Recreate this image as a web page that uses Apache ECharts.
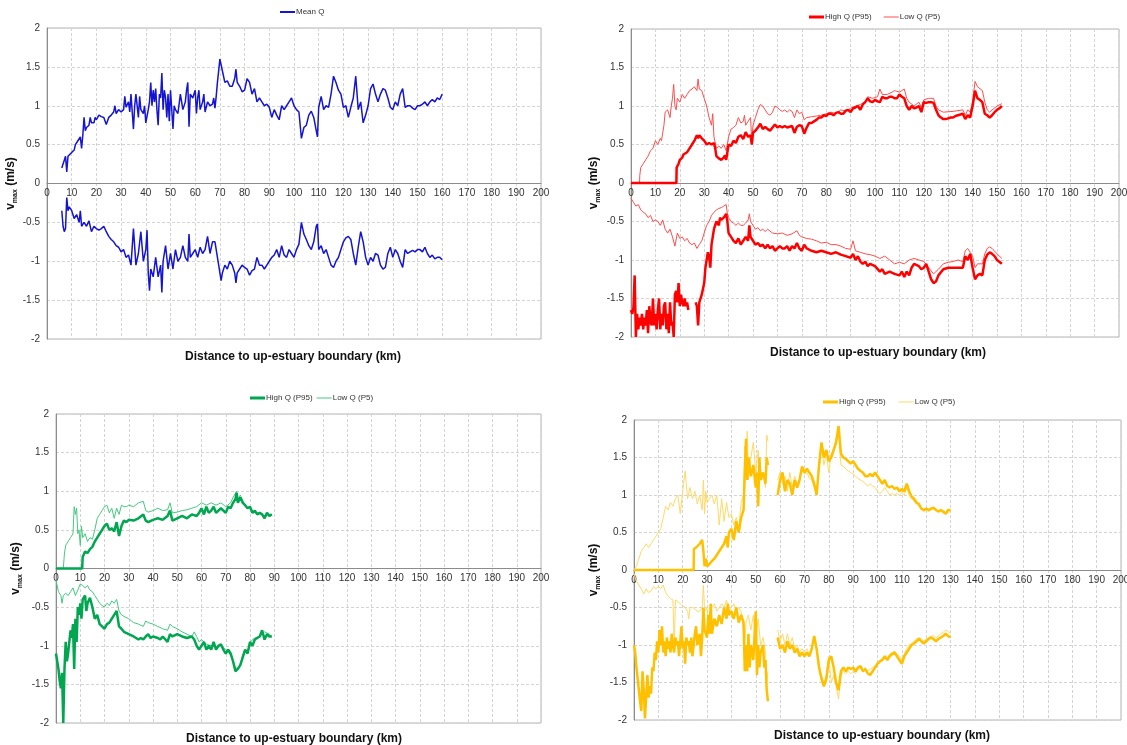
<!DOCTYPE html>
<html>
<head>
<meta charset="utf-8">
<script src="https://cdn.jsdelivr.net/npm/echarts@6/dist/echarts.min.js"></script>
<style>
html,body{margin:0;padding:0;background:#fff;}
#chart{width:1127px;height:745px;}
</style>
</head>
<body>
<div id="chart"></div>
<script>
// ---------------- DATA (distance km, v_max m/s) ----------------
const meanUp = [[6,0.2],[6.5,0.25],[7,0.3],[7.5,0.35],[8,0.15],[8.5,0.35],[9,0.37],[10,0.4],[11,0.43],[11.5,0.5],[12,0.48],[12.5,0.55],[13,0.55],[13.5,0.6],[14,0.45],[14.5,0.62],[15,0.85],[15.5,0.68],[16,0.72],[16.5,0.7],[17,0.75],[17.5,0.85],[18,0.78],[19,0.78],[19.5,0.85],[20,0.82],[21,0.88],[22,0.86],[23,0.85],[24,0.76],[25,0.85],[26,0.88],[27,0.92],[27.5,1.0],[28,0.9],[29,0.95],[30,0.92],[31,0.95],[31.5,1.12],[32,0.98],[33,1.05],[33.5,0.92],[34,1.15],[35,0.7],[35.5,1.0],[36,1.15],[37,0.85],[37.5,1.12],[38,0.95],[39,0.9],[39.5,1.0],[40,0.78],[41,0.95],[41.5,1.05],[42,1.3],[42.5,1.0],[43,1.2],[43.5,1.05],[44,1.22],[44.5,0.95],[45,0.75],[45.5,1.15],[46,1.1],[46.5,1.42],[47,0.95],[47.5,1.2],[48,1.1],[48.5,0.85],[49,1.15],[49.5,0.8],[50,1.2],[51,0.7],[51.5,1.0],[52,0.95],[53,0.9],[54,1.15],[55,0.95],[56,1.05],[56.5,1.2],[57,1.3],[57.5,0.73],[58,1.15],[59,1.1],[60,1.2],[60.5,0.9],[61,1.1],[61.5,1.2],[62,0.95],[63,1.05],[63.5,1.15],[64,0.92],[65,1.05],[66,1.0],[67,1.02],[67.5,1.1],[68,0.97],[68.5,1.12],[69,1.3],[70,1.6],[71,1.45],[72,1.3],[73,1.32],[74,1.25],[75,1.25],[76,1.35],[76.5,1.47],[77,1.3],[78,1.25],[79,1.18],[80,1.2],[81,1.35],[82,1.3],[83,1.15],[84,1.22],[85,1.05],[86,1.1],[87,1.05],[88,1.0],[89,1.02],[90,0.98],[91,0.85],[92,0.95],[93,0.88],[94,0.82],[95,1.0],[96,0.95],[97,1.0],[98,1.05],[99,1.1],[100,1.0],[101,0.95],[102,0.92],[103,0.58],[104,0.72],[105,0.75],[106,0.88],[107,0.93],[108,0.85],[109,0.68],[109.5,0.6],[110,0.98],[111,1.12],[112,0.95],[113,1.0],[114,0.98],[115,1.15],[116,1.38],[117,1.3],[118,1.2],[119,1.15],[120,0.98],[121,1.0],[122,0.85],[123,0.98],[124,1.1],[125,1.38],[126,0.95],[127,1.05],[128,0.78],[129,0.88],[130,1.0],[131,1.22],[132,1.28],[133,1.15],[134,1.05],[135,1.15],[136,1.22],[137,1.2],[138,1.1],[139,0.98],[140,0.95],[141,1.05],[142,1.0],[143,1.15],[144,1.22],[145,0.98],[146,1.0],[147,1.0],[148,0.97],[149,0.95],[150,1.0],[151,1.0],[152,1.02],[153,1.05],[154,1.0],[155,1.05],[156,1.08],[157,1.05],[158,1.1],[159,1.08],[160,1.15]];
const meanLow = [[6,-0.35],[6.5,-0.55],[7,-0.62],[7.5,-0.58],[8,-0.18],[8.5,-0.35],[9,-0.3],[10,-0.35],[11,-0.45],[12,-0.4],[13,-0.5],[13.5,-0.35],[14,-0.55],[15,-0.5],[16,-0.55],[17,-0.48],[18,-0.62],[19,-0.55],[20,-0.58],[21,-0.6],[22,-0.58],[23,-0.55],[24,-0.62],[25,-0.68],[26,-0.72],[27,-0.75],[28,-0.8],[29,-0.82],[30,-0.88],[31,-0.85],[32,-0.95],[33,-0.92],[34,-1.05],[35,-0.58],[36,-1.05],[37,-0.9],[38,-0.62],[39,-1.0],[40,-0.85],[40.5,-0.6],[41,-1.15],[41.5,-1.38],[42,-1.1],[43,-1.2],[44,-0.95],[45,-1.2],[46,-1.05],[46.5,-1.4],[47,-1.0],[48,-0.8],[49,-1.1],[50,-0.9],[51,-1.1],[52,-0.85],[53,-1.0],[54,-0.95],[55,-0.8],[56,-0.95],[57,-1.0],[57.5,-0.65],[58,-0.95],[59,-0.9],[60,-0.85],[61,-0.95],[62,-0.82],[63,-0.9],[64,-0.85],[65,-0.68],[66,-0.9],[67,-0.75],[68,-0.75],[69,-0.95],[70,-1.15],[70.5,-1.25],[71,-1.15],[72,-1.05],[73,-1.1],[74,-1.0],[75,-1.05],[76,-1.15],[76.5,-1.28],[77,-1.15],[78,-1.1],[79,-1.05],[80,-1.08],[81,-1.1],[82,-1.18],[83,-1.12],[84,-1.1],[85,-0.95],[86,-1.05],[87,-1.05],[88,-1.1],[89,-1.05],[90,-1.0],[91,-0.95],[92,-0.92],[93,-0.85],[94,-0.95],[95,-0.8],[96,-0.92],[97,-0.95],[98,-0.85],[99,-0.9],[100,-0.95],[101,-0.85],[102,-0.78],[103,-0.5],[104,-0.65],[105,-0.72],[106,-0.8],[107,-0.85],[108,-0.75],[109,-0.55],[109.5,-0.52],[110,-0.85],[111,-0.8],[112,-0.9],[113,-0.85],[114,-0.95],[115,-1.05],[116,-1.08],[117,-1.0],[118,-0.95],[119,-0.85],[120,-0.75],[121,-0.7],[122,-0.68],[123,-0.72],[124,-0.9],[125,-1.05],[126,-0.82],[127,-0.62],[128,-0.75],[129,-0.95],[130,-1.05],[131,-0.95],[132,-1.0],[133,-0.9],[134,-0.92],[135,-1.05],[136,-1.1],[137,-1.08],[138,-0.9],[139,-0.82],[140,-0.95],[141,-0.85],[142,-0.9],[143,-1.0],[144,-1.08],[145,-0.85],[146,-0.9],[147,-0.88],[148,-0.86],[149,-0.88],[150,-0.85],[151,-0.85],[152,-0.88],[153,-0.82],[154,-0.9],[155,-0.95],[156,-0.92],[157,-0.97],[158,-0.95],[159,-0.95],[160,-0.98]];

const redHighUp = [[0,0],[18.6,0],[18.7,0.2],[19.5,0.25],[20,0.3],[21,0.33],[21.5,0.37],[22,0.36],[23,0.4],[24,0.45],[25,0.5],[26,0.55],[27,0.62],[27.5,0.58],[28,0.62],[29,0.58],[30,0.55],[31,0.5],[32,0.52],[33,0.5],[34,0.52],[34.5,0.45],[35,0.35],[36,0.32],[37,0.3],[38,0.33],[38.5,0.36],[39,0.3],[39.5,0.28],[40,0.5],[41,0.48],[42,0.55],[43,0.52],[44,0.6],[45,0.62],[46,0.57],[47,0.66],[48,0.6],[49,0.62],[49.5,0.5],[50,0.65],[51,0.68],[52,0.72],[53,0.77],[54,0.7],[55,0.73],[56,0.7],[57,0.68],[58,0.72],[59,0.76],[60,0.72],[61,0.74],[62,0.72],[63,0.74],[64,0.72],[65,0.73],[66,0.74],[67,0.65],[68,0.73],[69,0.75],[70,0.74],[71,0.64],[72,0.72],[73,0.78],[74,0.78],[75,0.8],[76,0.82],[77,0.85],[78,0.85],[79,0.88],[80,0.87],[81,0.9],[82,0.9],[83,0.88],[84,0.91],[85,0.92],[86,0.9],[87,0.9],[88,0.94],[89,0.95],[90,0.92],[91,0.97],[92,0.98],[93,1.0],[94,0.95],[95,1.02],[96,1.05],[97,1.1],[98,1.06],[99,1.05],[100,1.08],[101,1.06],[102,1.05],[103,1.12],[104,1.1],[105,1.1],[106,1.12],[107,1.12],[108,1.1],[109,1.1],[110,1.15],[111,1.12],[112,1.1],[113,1.0],[114,0.95],[115,1.0],[116,0.97],[117,0.98],[118,1.0],[119,0.92],[120,1.05],[121,1.04],[122,1.05],[123,1.05],[124,1.04],[125,0.95],[126,0.88],[127,0.85],[128,0.83],[129,0.83],[130,0.84],[131,0.85],[132,0.85],[133,0.87],[134,0.88],[135,0.89],[136,0.9],[137,0.83],[138,0.88],[139,0.85],[140,1.0],[141,1.2],[142,1.1],[143,1.08],[144,1.05],[145,0.9],[146,0.88],[147,0.85],[148,0.88],[149,0.92],[150,0.95],[151,0.97],[152,1.0]];
const redLowUp = [[0,0],[3.5,0],[3.6,0.1],[4,0.2],[5,0.25],[6,0.3],[7,0.35],[8,0.42],[9,0.45],[10,0.55],[11,0.5],[12,0.58],[12.5,0.55],[13,0.65],[13.5,0.75],[14,0.92],[15,0.95],[16,0.85],[16.5,1.0],[17,1.1],[17.5,1.28],[18,1.0],[18.5,0.95],[19,1.1],[20,1.05],[21,1.15],[22,1.1],[23,1.15],[24,1.2],[25,1.22],[26,1.25],[27,1.2],[27.5,1.35],[28,1.22],[29,1.2],[30,1.1],[31,1.0],[32,0.85],[33,0.75],[33.5,0.9],[34,0.6],[35,0.45],[36,0.48],[37,0.45],[38,0.5],[39,0.42],[40,0.6],[41,0.7],[42,0.72],[43,0.75],[44,0.85],[45,0.78],[46,0.8],[46.5,0.88],[47,0.75],[48,0.8],[49,0.85],[49.5,0.55],[50,0.75],[51,0.85],[52,0.95],[53,1.02],[54,1.0],[55,0.95],[56,0.9],[57,0.88],[58,0.92],[59,1.0],[60,0.98],[61,0.95],[62,0.93],[63,0.95],[64,0.92],[65,0.95],[66,0.93],[67,0.85],[68,0.95],[69,0.9],[70,0.92],[71,0.82],[72,0.85],[74,0.86],[76,0.87],[78,0.88],[80,0.9],[82,0.92],[84,0.9],[86,0.95],[88,0.93],[90,0.97],[92,1.0],[94,1.02],[96,1.05],[97,1.12],[99,1.1],[101,1.12],[102,1.22],[103,1.15],[105,1.15],[107,1.18],[108,1.2],[110,1.18],[111,1.2],[112,1.22],[113,1.1],[114,1.05],[116,1.0],[118,1.05],[119,0.98],[120,1.08],[122,1.1],[124,1.1],[125,1.0],[126,0.95],[128,0.92],[132,0.93],[136,0.95],[137,0.88],[138,0.95],[139,0.92],[140,1.05],[141,1.32],[142,1.25],[144,1.2],[145,1.05],[146,0.95],[147,0.92],[148,0.95],[150,1.0],[152,1.03]];
const redHighLow = [[0,-1.65],[0.5,-1.7],[1,-1.62],[1.5,-1.2],[2,-2.0],[2.5,-1.7],[3,-1.9],[3.5,-1.75],[4,-1.85],[4.5,-1.7],[5,-1.9],[5.5,-1.75],[6,-1.85],[6.5,-1.65],[7,-1.95],[7.5,-1.6],[8,-1.8],[8.5,-1.85],[9,-1.5],[9.5,-1.85],[10,-1.7],[10.5,-1.9],[11,-1.65],[11.5,-1.5],[12,-1.9],[12.5,-1.7],[13,-1.85],[13.5,-1.6],[14,-1.55],[14.5,-1.9],[15,-1.7],[15.5,-1.95],[16,-1.55],[16.5,-1.85],[17,-1.8],[17.5,-2.0],[18,-1.45],[18.5,-1.4],[19,-1.55],[19.5,-1.3],[20,-1.6],[20.5,-1.45],[21,-1.55],[21.5,-1.6],[22,-1.5],[22.5,-1.6],[23,-1.55],[23.5,-1.65],[25,null],[26.5,-1.55],[27,-1.6],[27.5,-1.85],[28,-1.55],[29,-1.45],[30,-1.3],[30.5,-1.1],[31,-1.0],[31.5,-0.9],[32,-0.95],[32.5,-1.1],[33,-0.8],[34,-0.6],[35,-0.5],[36,-0.55],[36.5,-0.45],[37,-0.48],[38,-0.45],[39,-0.4],[39.5,-0.5],[40,-0.65],[41,-0.7],[42,-0.75],[43,-0.78],[44,-0.72],[45,-0.8],[46,-0.75],[47,-0.7],[48,-0.75],[48.5,-0.55],[49,-0.7],[50,-0.75],[51,-0.8],[52,-0.78],[53,-0.82],[54,-0.8],[55,-0.85],[56,-0.8],[57,-0.85],[58,-0.82],[59,-0.88],[60,-0.85],[61,-0.82],[62,-0.85],[63,-0.85],[64,-0.82],[65,-0.88],[66,-0.82],[67,-0.85],[68,-0.78],[69,-0.85],[70,-0.88],[71,-0.8],[72,-0.85],[74,-0.88],[76,-0.9],[78,-0.88],[80,-0.9],[82,-0.92],[84,-0.9],[86,-0.93],[88,-0.95],[90,-0.97],[91,-0.92],[92,-1.0],[93,-0.95],[94,-1.02],[95,-1.05],[96,-1.02],[97,-1.08],[98,-1.05],[100,-1.08],[102,-1.15],[103,-1.12],[104,-1.18],[106,-1.15],[108,-1.18],[110,-1.2],[111,-1.15],[112,-1.22],[113,-1.15],[114,-1.2],[115,-1.1],[116,-1.05],[118,-1.08],[119,-1.12],[120,-1.1],[121,-1.05],[122,-1.15],[123,-1.25],[124,-1.3],[125,-1.28],[126,-1.2],[128,-1.12],[130,-1.1],[132,-1.1],[134,-1.1],[136,-1.1],[137,-0.95],[138,-1.0],[139,-0.92],[140,-1.1],[141,-1.25],[142,-1.2],[143,-1.18],[144,-1.2],[145,-1.0],[146,-0.93],[147,-0.9],[148,-0.92],[149,-0.95],[150,-1.0],[152,-1.05]];
const redLowLow = [[0,-0.2],[1,-0.25],[2,-0.3],[3,-0.28],[4,-0.35],[5,-0.38],[6,-0.4],[7,-0.45],[8,-0.42],[9,-0.5],[10,-0.48],[11,-0.5],[12,-0.55],[13,-0.48],[14,-0.6],[15,-0.65],[16,-0.6],[17,-0.7],[18,-0.82],[19,-0.65],[20,-0.72],[21,-0.7],[22,-0.75],[23,-0.72],[24,-0.78],[25,-0.8],[26,-0.78],[27,-0.85],[28,-0.8],[29,-0.75],[30,-0.65],[31,-0.55],[32,-0.5],[33,-0.42],[34,-0.38],[35,-0.35],[36,-0.33],[37,-0.32],[38,-0.3],[39,-0.28],[39.5,-0.4],[40,-0.45],[41,-0.5],[42,-0.52],[43,-0.55],[44,-0.52],[45,-0.55],[46,-0.55],[47,-0.52],[48,-0.48],[48.5,-0.4],[49,-0.5],[50,-0.55],[51,-0.6],[52,-0.58],[53,-0.62],[54,-0.6],[55,-0.63],[56,-0.6],[58,-0.65],[60,-0.66],[62,-0.65],[64,-0.68],[66,-0.66],[68,-0.62],[69,-0.68],[70,-0.7],[72,-0.72],[74,-0.73],[76,-0.75],[78,-0.78],[80,-0.77],[82,-0.8],[84,-0.8],[86,-0.82],[88,-0.85],[90,-0.86],[91,-0.75],[92,-0.88],[94,-0.9],[96,-0.92],[98,-0.93],[100,-0.95],[102,-0.98],[104,-0.95],[106,-1.0],[108,-1.05],[110,-1.03],[112,-1.05],[114,-1.0],[116,-0.98],[118,-1.0],[120,-1.02],[122,-1.1],[124,-1.18],[126,-1.12],[128,-1.05],[130,-1.03],[132,-1.02],[134,-1.0],[136,-1.02],[137,-0.88],[138,-0.85],[139,-0.9],[140,-0.95],[141,-1.1],[142,-1.05],[144,-1.05],[145,-0.92],[146,-0.85],[147,-0.83],[148,-0.85],[150,-0.92],[152,-0.98]];

const greenHighUp = [[0,0],[10.8,0],[11,0.15],[12,0.22],[13,0.2],[14,0.25],[15,0.28],[16,0.35],[17,0.4],[18,0.45],[19,0.5],[20,0.55],[21,0.58],[22,0.5],[23,0.52],[24,0.48],[25,0.6],[26,0.42],[27,0.55],[28,0.62],[29,0.6],[30,0.63],[32,0.62],[34,0.65],[36,0.7],[37,0.62],[38,0.6],[40,0.63],[42,0.65],[44,0.63],[46,0.68],[47,0.75],[48,0.62],[50,0.65],[52,0.68],[54,0.65],[56,0.7],[58,0.68],[59,0.72],[60,0.78],[61,0.7],[62,0.8],[63,0.72],[64,0.75],[65,0.8],[66,0.72],[68,0.78],[70,0.72],[71,0.8],[72,0.78],[73,0.85],[74,0.9],[74.5,0.98],[75,0.85],[76,0.92],[77,0.85],[78,0.82],[79,0.78],[80,0.8],[81,0.72],[82,0.75],[83,0.7],[84,0.72],[85,0.7],[86,0.65],[87,0.72],[88,0.68],[89,0.7]];
const greenLowUp = [[0,0],[3,0],[3.5,0.2],[4,0.3],[5,0.35],[6,0.4],[7,0.45],[7.5,0.8],[8,0.7],[8.5,0.78],[9,0.45],[9.5,0.5],[10,0.3],[10.5,0.55],[11,0.4],[12,0.45],[13,0.35],[14,0.4],[15,0.38],[16,0.5],[17,0.65],[18,0.7],[19,0.75],[20,0.8],[21,0.82],[22,0.72],[23,0.78],[24,0.65],[25,0.78],[26,0.7],[27,0.82],[28,0.8],[29,0.8],[30,0.82],[32,0.8],[34,0.85],[36,0.87],[37,0.75],[38,0.73],[40,0.75],[42,0.78],[44,0.75],[46,0.76],[47,0.85],[48,0.72],[50,0.73],[52,0.75],[54,0.76],[56,0.78],[58,0.8],[60,0.85],[62,0.82],[64,0.85],[66,0.82],[68,0.85],[70,0.8],[72,0.85],[73,0.92],[74.5,1.0],[75,0.9],[76,0.95],[77,0.88],[78,0.82],[79,0.78],[80,0.8],[81,0.75],[82,0.72],[84,0.72],[86,0.68],[87,0.72],[88,0.7],[89,0.7]];
const greenHighLow = [[0,-1.1],[0.5,-1.12],[1,-1.3],[1.5,-1.45],[2,-1.55],[2.5,-1.35],[3,-2.0],[3.5,-1.3],[4,-0.95],[4.5,-1.2],[5,-1.1],[5.5,-0.95],[6,-0.8],[6.5,-0.9],[7,-0.72],[7.5,-1.3],[8,-0.65],[8.5,-0.95],[9,-0.5],[9.5,-0.6],[10,-0.45],[10.5,-0.65],[11,-0.4],[12,-0.35],[12.5,-0.55],[13,-0.45],[14,-0.38],[15,-0.5],[16,-0.65],[17,-0.6],[18,-0.72],[19,-0.75],[20,-0.78],[21,-0.72],[22,-0.7],[23,-0.65],[24,-0.6],[25,-0.55],[26,-0.75],[27,-0.78],[28,-0.82],[30,-0.85],[32,-0.88],[34,-0.92],[35,-0.9],[36,-0.92],[37,-0.88],[38,-0.85],[39,-0.9],[40,-0.88],[42,-0.9],[43,-0.92],[44,-0.88],[46,-0.95],[47,-0.85],[48,-0.88],[50,-0.85],[52,-0.88],[54,-0.9],[56,-0.88],[57,-0.92],[58,-1.0],[59,-1.05],[60,-1.0],[61,-0.95],[62,-1.05],[63,-1.0],[64,-1.05],[65,-0.95],[66,-1.05],[67,-1.0],[68,-0.98],[69,-1.05],[70,-1.1],[71,-1.05],[72,-1.1],[73,-1.2],[74,-1.33],[75,-1.3],[76,-1.25],[77,-1.15],[78,-1.05],[79,-1.1],[80,-0.95],[81,-1.0],[82,-0.92],[83,-0.9],[84,-0.88],[85,-0.8],[86,-0.92],[87,-0.85],[88,-0.88],[89,-0.88]];
const greenLowLow = [[0,-0.15],[1,-0.3],[2,-0.35],[2.5,-0.45],[3,-0.35],[4,-0.32],[5,-0.35],[6,-0.3],[7,-0.25],[8,-0.35],[9,-0.28],[10,-0.2],[11,-0.22],[12,-0.25],[13,-0.22],[14,-0.28],[15,-0.3],[16,-0.35],[17,-0.4],[18,-0.45],[19,-0.48],[20,-0.5],[21,-0.45],[22,-0.48],[23,-0.42],[24,-0.45],[25,-0.4],[26,-0.55],[27,-0.6],[28,-0.62],[30,-0.65],[32,-0.7],[34,-0.72],[36,-0.75],[37,-0.68],[38,-0.7],[40,-0.72],[42,-0.75],[44,-0.78],[46,-0.8],[47,-0.72],[48,-0.75],[50,-0.78],[52,-0.82],[54,-0.85],[56,-0.88],[57,-0.82],[58,-0.88],[59,-0.95],[60,-0.92],[62,-0.98],[64,-1.0],[66,-1.02],[68,-1.0],[70,-1.05],[72,-1.12],[73,-1.2],[74,-1.28],[75,-1.3],[76,-1.25],[77,-1.12],[78,-1.05],[79,-1.08],[80,-0.95],[82,-0.9],[84,-0.88],[86,-0.82],[88,-0.85],[89,-0.88]];

const orangeHighUp = [[0,0],[24.5,0],[24.6,0.28],[25.5,0.3],[27,0.35],[28,0.4],[28.5,0.25],[29,0.05],[29.5,0.15],[30,0.05],[31,0.08],[32,0.12],[33,0.15],[34,0.2],[35,0.25],[36,0.3],[37,0.35],[38,0.45],[38.5,0.3],[39,0.5],[40,0.55],[41,0.4],[42,0.65],[43,0.5],[44,0.7],[45,0.8],[45.5,1.3],[46,1.75],[46.5,1.2],[47,1.5],[48,1.25],[49,1.4],[50,1.1],[50.5,1.3],[51,0.85],[51.5,1.5],[52,1.2],[53,1.3],[54,1.15],[54.5,1.5],[55,1.4],[57,null],[59,1.0],[60,1.2],[61,1.3],[62,1.05],[63,1.2],[64,1.15],[65,1.0],[66,1.2],[67,1.1],[68,1.2],[69,1.38],[70,1.3],[71,1.35],[72,1.3],[73,1.25],[74,1.15],[75,1.0],[76,1.4],[77,1.7],[78,1.5],[79,1.6],[80,1.45],[81,1.5],[82,1.6],[83,1.7],[84,1.92],[85,1.55],[86,1.5],[87,1.48],[88,1.45],[89,1.42],[90,1.45],[91,1.4],[92,1.35],[93,1.32],[94,1.3],[95,1.25],[96,1.25],[97,1.28],[98,1.25],[99,1.3],[100,1.25],[101,1.2],[102,1.15],[103,1.2],[104,1.12],[105,1.1],[106,1.12],[107,1.08],[108,1.1],[109,1.05],[110,1.08],[111,1.05],[112,1.15],[113,1.05],[114,0.98],[115,0.95],[116,0.9],[117,0.88],[118,0.82],[119,0.8],[120,0.82],[121,0.8],[122,0.82],[123,0.83],[124,0.8],[125,0.78],[126,0.8],[127,0.78],[128,0.75],[129,0.8],[130,0.8]];
const orangeLowUp = [[0,0],[1,0.05],[2,0.15],[3,0.25],[4,0.3],[5,0.35],[6,0.3],[7,0.35],[8,0.4],[9,0.45],[10,0.5],[11,0.55],[12,0.7],[13,0.85],[14,0.8],[15,0.9],[16,0.85],[17,0.95],[18,1.0],[19,0.75],[20,1.05],[21,1.32],[22,0.95],[23,1.1],[24,0.95],[25,1.05],[26,0.88],[27,1.0],[28,0.8],[28.5,1.2],[29,0.75],[29.5,1.05],[30,0.9],[31,0.95],[32,1.0],[33,0.88],[34,1.0],[35,0.6],[36,0.95],[37,0.65],[38,0.9],[39,0.7],[40,0.75],[41,0.6],[42,0.7],[43,0.55],[44,0.9],[45,1.0],[45.5,1.65],[46,1.3],[46.5,1.85],[47,1.2],[48,1.5],[49,1.7],[50,1.3],[51,1.6],[52,1.2],[53,1.3],[54,1.1],[54.5,1.8],[55,1.72],[57,null],[59,1.2],[60,1.3],[61,1.15],[62,1.25],[63,1.05],[64,1.3],[65,1.1],[66,1.25],[67,1.15],[68,1.2],[69,1.35],[70,1.28],[71,1.3],[72,1.22],[73,1.2],[74,1.1],[75,1.05],[76,1.35],[77,1.65],[78,1.4],[79,1.55],[80,1.3],[81,1.55],[82,1.6],[83,1.75],[84,1.85],[85,1.4],[86,1.38],[87,1.35],[88,1.32],[89,1.3],[90,1.28],[91,1.25],[92,1.22],[93,1.2],[94,1.18],[95,1.15],[96,1.12],[97,1.15],[98,1.12],[99,1.1],[100,1.05],[101,1.02],[102,1.05],[103,1.1],[104,1.05],[105,1.0],[106,1.02],[107,1.0],[108,1.02],[109,1.0],[110,1.03],[111,1.0],[112,1.1],[113,1.0],[114,0.95],[115,0.92],[116,0.88],[117,0.85],[118,0.8],[119,0.78],[120,0.8],[121,0.78],[122,0.8],[123,0.82],[124,0.8],[125,0.77],[126,0.78],[127,0.76],[128,0.75],[129,0.77],[130,0.78]];
const orangeHighLow = [[0,-1.0],[0.5,-1.1],[1,-1.3],[1.5,-1.45],[2,-1.6],[2.5,-1.75],[3,-1.88],[3.5,-1.35],[4,-1.6],[4.5,-1.98],[5,-1.7],[5.5,-1.4],[6,-1.7],[6.5,-1.55],[7,-1.65],[7.5,-1.3],[8,-1.35],[8.5,-1.1],[9,-1.2],[9.5,-0.95],[10,-1.1],[10.5,-0.8],[11,-1.0],[11.5,-0.75],[12,-1.1],[12.5,-0.95],[13,-1.15],[13.5,-0.9],[14,-1.05],[14.5,-0.95],[15,-1.1],[15.5,-0.85],[16,-1.0],[16.5,-1.1],[17,-0.9],[17.5,-1.0],[18,-0.95],[18.5,-1.15],[19,-0.95],[19.5,-0.75],[20,-1.05],[20.5,-0.95],[21,-1.25],[21.5,-0.9],[22,-1.0],[22.5,-0.95],[23,-1.1],[23.5,-0.9],[24,-1.15],[25,-0.85],[25.5,-0.75],[26,-1.0],[27,-0.85],[27.5,-1.15],[28,-0.9],[28.5,-0.5],[29,-0.8],[30,-0.9],[30.5,-0.6],[31,-0.85],[31.5,-0.45],[32,-0.85],[33,-0.65],[34,-0.75],[35,-0.6],[36,-0.72],[37,-0.5],[38,-0.65],[38.5,-0.45],[39,-0.6],[40,-0.55],[41,-0.65],[42,-0.5],[43,-0.7],[44,-0.6],[45,-0.7],[45.5,-1.35],[46,-1.0],[46.5,-1.35],[47,-0.85],[47.5,-1.3],[48,-1.0],[49,-1.2],[50,-0.55],[50.5,-1.4],[51,-1.0],[51.5,-1.3],[52,-1.1],[53,-1.0],[53.5,-1.3],[54,-1.2],[54.5,-1.6],[55,-1.75],[57,null],[59,-0.9],[60,-1.05],[61,-1.0],[62,-1.1],[63,-0.95],[64,-1.05],[65,-1.0],[66,-1.1],[67,-1.05],[68,-1.15],[69,-1.1],[70,-1.15],[71,-1.1],[72,-1.15],[73,-1.05],[74,-0.88],[75,-1.05],[76,-1.3],[77,-1.45],[78,-1.55],[79,-1.45],[80,-1.2],[81,-1.15],[82,-1.3],[83,-1.5],[84,-1.6],[85,-1.35],[86,-1.3],[87,-1.35],[88,-1.3],[89,-1.32],[90,-1.3],[91,-1.35],[92,-1.3],[93,-1.28],[94,-1.35],[95,-1.32],[96,-1.38],[97,-1.4],[98,-1.35],[99,-1.3],[100,-1.25],[101,-1.22],[102,-1.2],[103,-1.15],[104,-1.2],[105,-1.15],[106,-1.12],[107,-1.1],[108,-1.15],[109,-1.2],[110,-1.25],[111,-1.15],[112,-1.1],[113,-1.05],[114,-1.0],[115,-0.98],[116,-0.95],[117,-0.92],[118,-0.95],[119,-0.98],[120,-0.95],[121,-0.92],[122,-0.9],[123,-0.92],[124,-0.95],[125,-0.92],[126,-0.9],[127,-0.88],[128,-0.85],[129,-0.88],[130,-0.9]];
const orangeLowLow = [[0,-0.05],[1,-0.15],[2,-0.2],[3,-0.25],[4,-0.32],[5,-0.25],[6,-0.3],[7,-0.28],[8,-0.22],[9,-0.25],[10,-0.22],[11,-0.25],[12,-0.2],[13,-0.3],[14,-0.35],[15,-0.38],[16,-0.4],[16.5,-1.05],[17,-0.4],[18,-0.42],[19,-0.45],[20,-0.48],[21,-0.5],[22,-0.55],[22.5,-0.65],[23,-0.5],[24,-0.5],[25,-0.52],[26,-0.55],[27,-0.55],[28,-0.5],[28.5,-0.2],[29,-0.55],[30,-0.5],[30.5,-0.75],[31,-0.55],[32,-0.5],[33,-0.45],[34,-0.55],[35,-0.5],[36,-0.45],[37,-0.5],[38,-0.4],[39,-0.55],[40,-0.5],[41,-0.45],[42,-0.55],[43,-0.5],[44,-0.55],[45,-0.8],[45.5,-1.0],[46,-0.7],[47,-0.6],[48,-0.8],[49,-0.6],[50,-0.95],[51,-0.65],[52,-1.0],[53,-0.9],[54,-1.1],[54.5,-1.5],[55,-1.35],[57,null],[59,-0.8],[60,-0.95],[61,-0.85],[62,-1.0],[63,-0.85],[64,-1.0],[65,-0.9],[66,-1.05],[67,-1.0],[68,-1.1],[69,-1.05],[70,-1.1],[71,-1.05],[72,-1.12],[73,-1.05],[74,-0.9],[75,-1.05],[76,-1.25],[77,-1.4],[78,-1.5],[79,-1.4],[80,-1.15],[81,-1.5],[82,-1.4],[83,-1.55],[84,-1.72],[85,-1.4],[86,-1.35],[87,-1.38],[88,-1.35],[89,-1.38],[90,-1.35],[91,-1.38],[92,-1.32],[93,-1.3],[94,-1.35],[95,-1.3],[96,-1.35],[97,-1.32],[98,-1.3],[99,-1.28],[100,-1.25],[101,-1.2],[102,-1.18],[103,-1.15],[104,-1.18],[105,-1.12],[106,-1.1],[107,-1.08],[108,-1.12],[109,-1.15],[110,-1.2],[111,-1.12],[112,-1.05],[113,-1.0],[114,-0.98],[115,-0.95],[116,-0.92],[117,-0.9],[118,-0.92],[119,-0.95],[120,-0.92],[121,-0.9],[122,-0.88],[123,-0.88],[124,-0.9],[125,-0.88],[126,-0.85],[127,-0.83],[128,-0.8],[129,-0.82],[130,-0.85]];

const xTitle = 'Distance to up-estuary boundary (km)';
const legendLabels = {
  mean: 'Mean Q',
  rHigh: 'High Q (P95)', rLow: 'Low Q (P5)',
  gHigh: 'High Q (P95)', gLow: 'Low Q (P5)',
  oHigh: 'High Q (P95)', oLow: 'Low Q (P5)'
};

// ---------------- LAYOUT ----------------
const FONT = '"Liberation Sans", Arial, sans-serif';
const grids = [
  {left: 47, top: 28, width: 494, height: 311},
  {left: 631, top: 29, width: 488, height: 308},
  {left: 56, top: 414, width: 485, height: 309},
  {left: 634, top: 420, width: 487, height: 300}
];
const yNameGap = [26, 29, 32, 32];
const titlePos = [[293, 357], [878, 353], [294, 739], [882, 736]];
const legendPos = [[280, 8], [809, 13], [250, 394], [823, 398]];
const legendGap = [10, 12, 4, 13];
const legendNames = [['mean'], ['rHigh', 'rLow'], ['gHigh', 'gLow'], ['oHigh', 'oLow']];
const ICON_THICK = 'path://M0,0L30,0L30,6L0,6Z';
const ICON_MID = 'path://M0,0L30,0L30,4L0,4Z';
const ICON_THIN = 'path://M0,0L30,0L30,2L0,2Z';
const legendIcons = {mean: ICON_MID, rHigh: ICON_THICK, gHigh: ICON_THICK, oHigh: ICON_THICK, rLow: ICON_THIN, gLow: ICON_THIN, oLow: ICON_THIN};

const chart = echarts.init(document.getElementById('chart'), null, {renderer: 'canvas'});

function xAx(i) {
  const g = grids[i];
  return {
    type: 'value', gridIndex: i, min: 0, max: 200, interval: 10,
    axisLine: {onZero: true, lineStyle: {color: '#8c8c8c', width: 1}},
    axisTick: {show: false},
    axisLabel: {color: '#333', fontSize: 10, fontFamily: FONT, margin: -(g.height / 2 - 5)},
    splitLine: {show: true, lineStyle: {color: '#d4d4d4', type: [3, 2], width: 1}}
  };
}
function yAx(i) {
  return {
    type: 'value', gridIndex: i, min: -2, max: 2, interval: 0.5,
    axisLine: {show: true, lineStyle: {color: '#8c8c8c', width: 1}},
    axisTick: {show: false},
    axisLabel: {color: '#333', fontSize: 10, fontFamily: FONT, margin: 7},
    splitLine: {show: true, lineStyle: {color: '#d4d4d4', type: [3, 2], width: 1}},
    name: '{v|v}{s|max}{v| (m/s)}',
    nameLocation: 'middle', nameRotate: 90, nameGap: yNameGap[i],
    nameTextStyle: {
      rich: {
        v: {fontSize: 12, fontWeight: 'bold', fontFamily: FONT, color: '#111', lineHeight: 16, verticalAlign: 'middle'},
        s: {fontSize: 7, fontWeight: 'bold', fontFamily: FONT, color: '#111', lineHeight: 16, verticalAlign: 'bottom'}
      }
    }
  };
}
function line(name, data, gi, color, width, z) {
  return {
    type: 'line', name: name, data: data, xAxisIndex: gi, yAxisIndex: gi,
    symbol: 'none', showSymbol: false, connectNulls: false, animation: false,
    lineStyle: {color: color, width: width}, itemStyle: {color: color}, z: z
  };
}

const BLUE = '#1414d2';
const RED_H = '#ff0000', RED_L = '#ff4d4d';
const GREEN_H = '#00a650', GREEN_L = '#45c97f';
const OR_H = '#ffc000', OR_L = '#ffd966';

const series = [
  line('mean', meanUp, 0, BLUE, 1.5, 3),
  line('mean', meanLow, 0, BLUE, 1.5, 3),
  line('rLow', redLowUp, 1, RED_L, 1, 2),
  line('rLow', redLowLow, 1, RED_L, 1, 2),
  line('rHigh', redHighUp, 1, RED_H, 2.5, 3),
  line('rHigh', redHighLow, 1, RED_H, 2.5, 3),
  line('gLow', greenLowUp, 2, GREEN_L, 1, 2),
  line('gLow', greenLowLow, 2, GREEN_L, 1, 2),
  line('gHigh', greenHighUp, 2, GREEN_H, 2.5, 3),
  line('gHigh', greenHighLow, 2, GREEN_H, 2.5, 3),
  line('oLow', orangeLowUp, 3, OR_L, 1, 2),
  line('oLow', orangeLowLow, 3, OR_L, 1, 2),
  line('oHigh', orangeHighUp, 3, OR_H, 2.5, 3),
  line('oHigh', orangeHighLow, 3, OR_H, 2.5, 3)
];

const option = {
  backgroundColor: '#ffffff',
  animation: false,
  grid: grids.map(g => Object.assign({show: true, borderColor: '#b4b4b4', borderWidth: 1, containLabel: false, outerBoundsMode: 'none'}, g)),
  xAxis: grids.map((g, i) => xAx(i)),
  yAxis: grids.map((g, i) => yAx(i)),
  legend: legendNames.map((names, i) => ({
    data: names.map(n => ({name: n, icon: legendIcons[n]})),
    left: legendPos[i][0], top: legendPos[i][1],
    orient: 'horizontal', itemWidth: 15, itemHeight: 10, itemGap: legendGap[i],
    symbolKeepAspect: true,
    padding: 0, selectedMode: false,
    formatter: n => legendLabels[n],
    textStyle: {fontSize: 8, fontFamily: FONT, color: '#333', padding: [0, 0, 0, -4]}
  })),
  graphic: titlePos.map(p => ({
    type: 'text', x: p[0], y: p[1],
    style: {text: xTitle, fontSize: 12, fontWeight: 'bold', fontFamily: FONT, fill: '#111', align: 'center', verticalAlign: 'middle'}
  })),
  series: series
};
chart.setOption(option);
</script>
</body>
</html>
